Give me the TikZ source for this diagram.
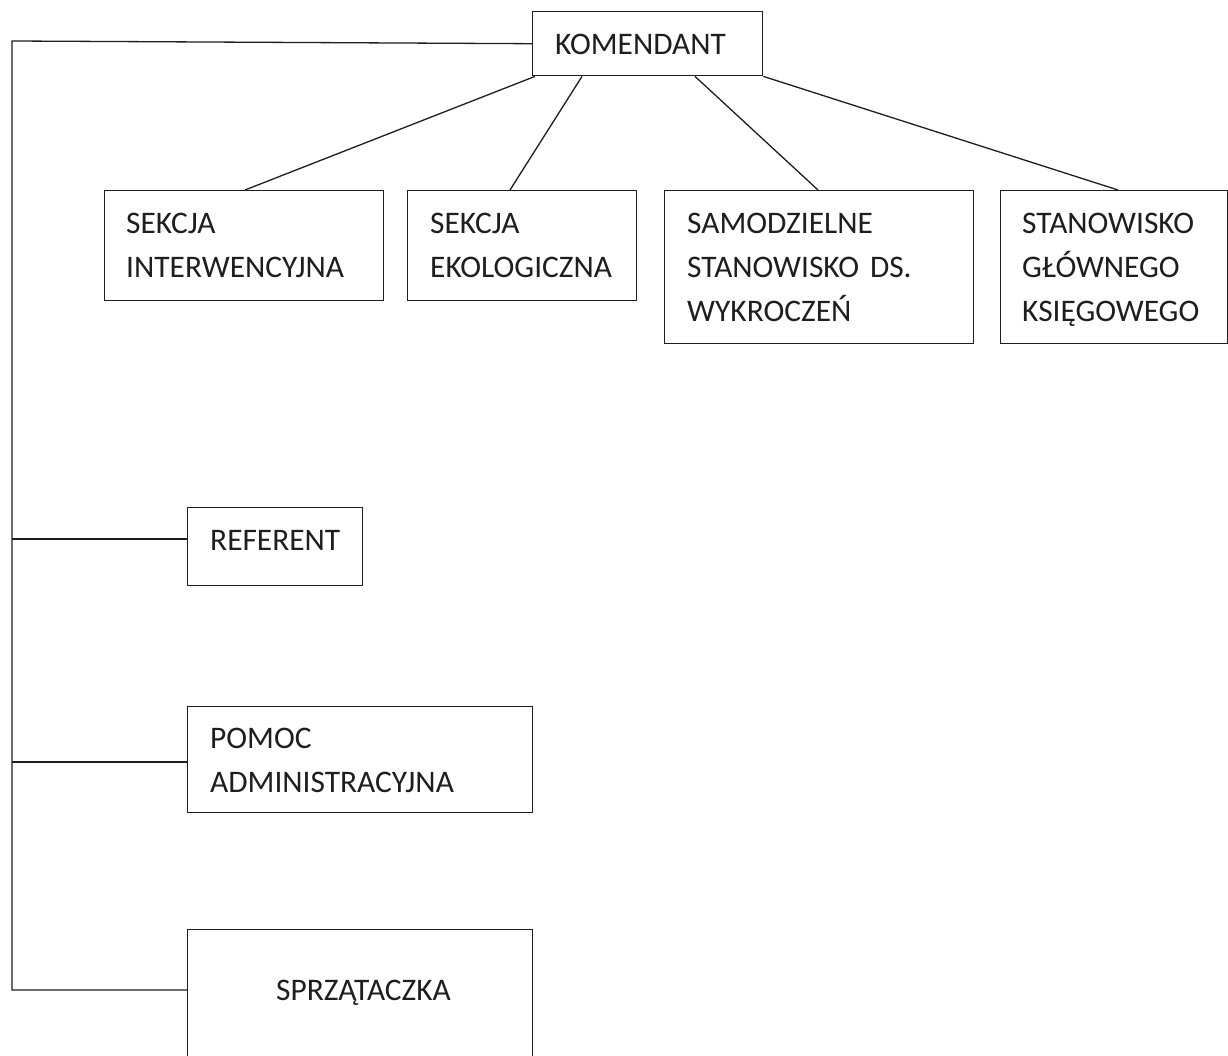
\documentclass[tikz,border=0pt]{standalone}
\usepackage{fontspec}
\setmainfont{Carlito}
\usetikzlibrary{calc}
\definecolor{ink}{HTML}{1E1E1E}
\begin{document}
\begin{tikzpicture}[x=1pt,y=-1pt,
  box/.style={draw=ink,line width=1.4pt,rectangle,anchor=north west,inner sep=0pt},
  lbl/.style={anchor=base west,inner sep=0pt,text=ink,font=\fontsize{31.4}{42}\selectfont},
  conn/.style={draw=ink,line width=1.3pt}]
\useasboundingbox (0,0) rectangle (1228,1056);
\fill[white] (0,0) rectangle (1228,1056);
% boxes
\node[box,minimum width=230pt,minimum height=64pt] (kom) at (532,11) {};
\node[box,minimum width=279pt,minimum height=110pt] (sint) at (104,190) {};
\node[box,minimum width=229pt,minimum height=110pt] (sekol) at (407,190) {};
\node[box,minimum width=309pt,minimum height=153pt] (samo) at (664,190) {};
\node[box,minimum width=227pt,minimum height=153pt] (stan) at (1000,190) {};
\node[box,minimum width=175pt,minimum height=78pt] (ref) at (187,507) {};
\node[box,minimum width=345pt,minimum height=106pt] (pom) at (187,706) {};
\node[box,minimum width=345pt,minimum height=140pt] (sprz) at (187,929) {};
% labels
\node[lbl] (tkom) at ($(kom.north west)+(23,44)$) {KOMENDANT};
\node[lbl] (tsint1) at ($(sint.north west)+(22,44)$) {SEKCJA};
\node[lbl] (tsint2) at ($(sint.north west)+(22,88)$) {INTERWENCYJNA};
\node[lbl] (tsek1) at ($(sekol.north west)+(23,44)$) {SEKCJA};
\node[lbl] (tsek2) at ($(sekol.north west)+(23,88)$) {EKOLOGICZNA};
\node[lbl] (tsam1) at ($(samo.north west)+(23,44)$) {SAMODZIELNE};
\node[lbl] (tsam2) at ($(samo.north west)+(23,88)$) {STANOWISKO\hspace{0.35em}DS.};
\node[lbl] (tsam3) at ($(samo.north west)+(23,132)$) {WYKROCZEŃ};
\node[lbl] (tstan1) at ($(stan.north west)+(22,44)$) {STANOWISKO};
\node[lbl] (tstan2) at ($(stan.north west)+(22,88)$) {GŁÓWNEGO};
\node[lbl] (tstan3) at ($(stan.north west)+(22,132)$) {KSIĘGOWEGO};
\node[lbl] (tref) at ($(ref.north west)+(23,43)$) {REFERENT};
\node[lbl] (tpom1) at ($(pom.north west)+(23,42)$) {POMOC};
\node[lbl] (tpom2) at ($(pom.north west)+(23,86)$) {ADMINISTRACYJNA};
\node[lbl] (tsprz) at ($(sprz.north west)+(89,71)$) {SPRZĄTACZKA};
% connectors
\coordinate (tl) at (12,41);
\draw[conn] (kom.west) -- (tl) |- ($(sprz.north west)+(0,61)$);
\draw[conn] (tl |- {$(ref.north west)+(0,32)$}) -- ($(ref.north west)+(0,32)$);
\draw[conn] (tl |- {$(pom.north west)+(0,56)$}) -- ($(pom.north west)+(0,56)$);
\draw[conn] ($(kom.south west)+(3,0)$) -- ($(sint.north west)+(141,0)$);
\draw[conn] ($(kom.south west)+(50,0)$) -- ($(sekol.north west)+(103,0)$);
\draw[conn] ($(kom.south west)+(163,0)$) -- ($(samo.north west)+(154,0)$);
\draw[conn] (kom.south east) -- ($(stan.north west)+(118,0)$);
\end{tikzpicture}
\end{document}
